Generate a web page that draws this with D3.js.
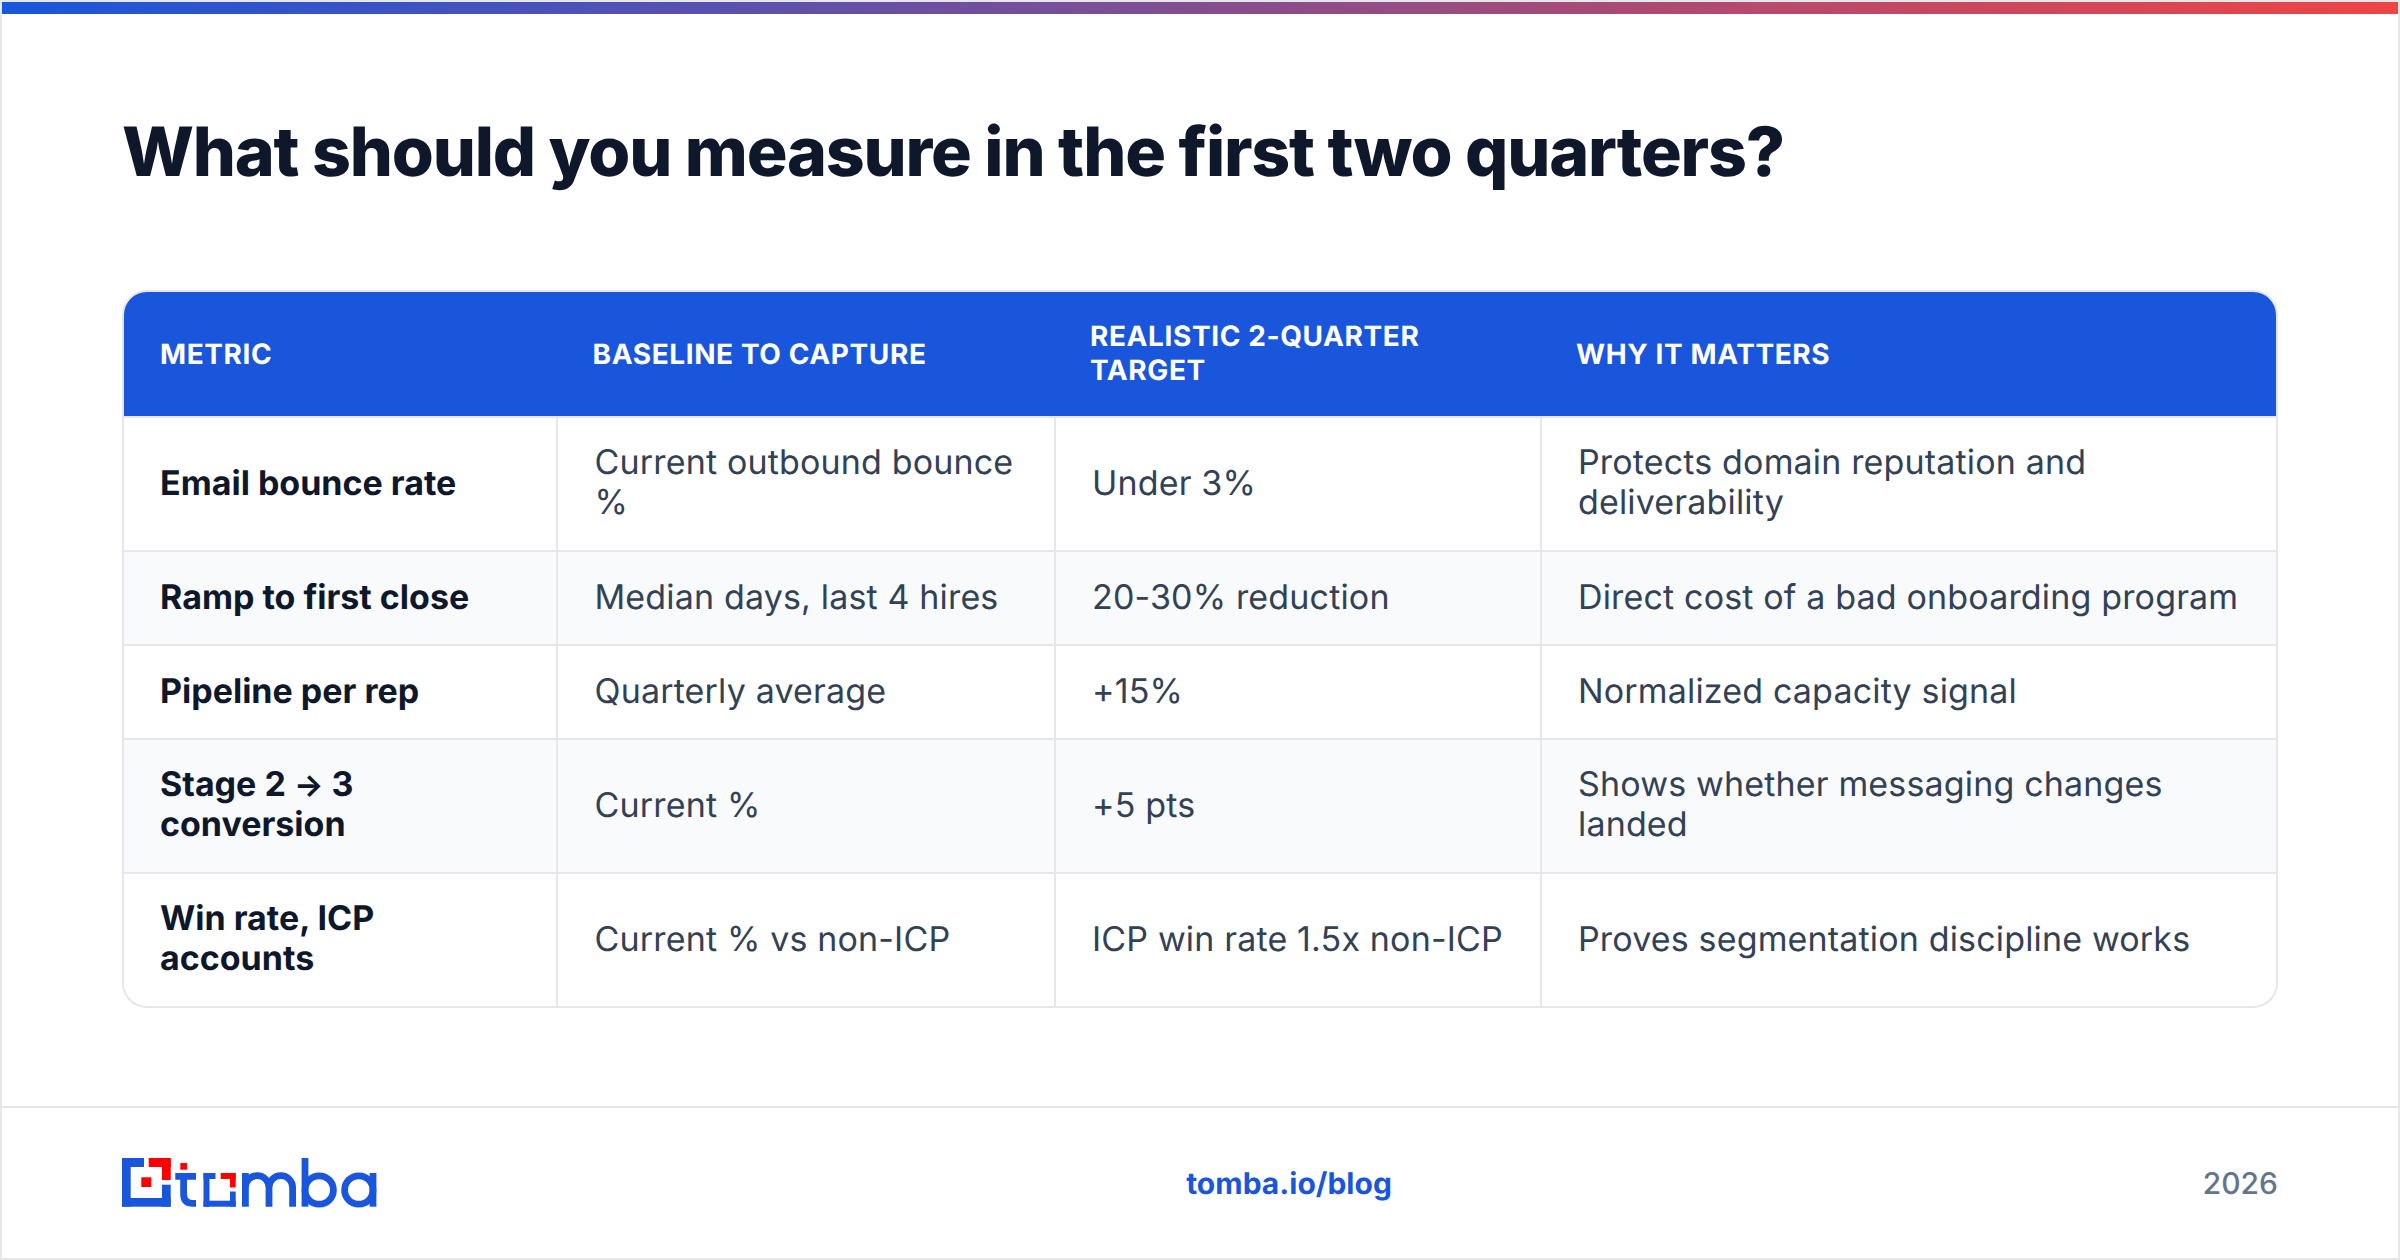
<!DOCTYPE html>
<html>
<head>
<meta charset="utf-8">
<script src="https://cdn.jsdelivr.net/npm/d3@7"></script>
<style>
html, body { margin: 0; padding: 0; background: #fff; }
svg { display: block; font-family: Inter, sans-serif; text-rendering: geometricPrecision; }
</style>
</head>
<body>
<svg id="chart" width="2400" height="1260"></svg>
<script>
var titleText = "What should you measure in the first two quarters?";
var columnHeaders = [["METRIC"], ["BASELINE TO CAPTURE"], ["REALISTIC 2-QUARTER", "TARGET"], ["WHY IT MATTERS"]];
var metrics = [["Email bounce rate"], ["Ramp to first close"], ["Pipeline per rep"], ["Stage 2 \u2192 3", "conversion"], ["Win rate, ICP", "accounts"]];
var baselines = [["Current outbound bounce", "%"], ["Median days, last 4 hires"], ["Quarterly average"], ["Current %"], ["Current % vs non-ICP"]];
var targets = [["Under 3%"], ["20-30% reduction"], ["+15%"], ["+5 pts"], ["ICP win rate 1.5x non-ICP"]];
var reasons = [["Protects domain reputation and", "deliverability"], ["Direct cost of a bad onboarding program"], ["Normalized capacity signal"], ["Shows whether messaging changes", "landed"], ["Proves segmentation discipline works"]];
var footerLink = "tomba.io/blog";
var footerYear = "2026";

var bodyColumns = [metrics, baselines, targets, reasons];

var svg = d3.select("#chart");
var W = 2400, H = 1260;
var border = "#e5e7eb";
var blue = "#1a56db";
var dark = "#0f172a";
var slate = "#334155";

// table frame
var left = 123, right = 2277, top_ = 291, bottom = 1007;
var colEdges = [left, 557, 1055, 1541, right];
var rowEdges = [417, 551, 645, 739, 873, bottom];
var headPad = [37, 35.5, 35, 35];
var cellPad = [37, 37.5, 37, 37];
var radius = 24;

var defs = svg.append("defs");
var grad = defs.append("linearGradient").attr("id", "topbar");
grad.append("stop").attr("offset", "0%").attr("stop-color", blue);
grad.append("stop").attr("offset", "100%").attr("stop-color", "#ef4444");
defs.append("clipPath").attr("id", "tableClip").append("rect")
    .attr("x", left).attr("y", top_)
    .attr("width", right - left).attr("height", bottom - top_)
    .attr("rx", radius);

// page
svg.append("rect").attr("width", W).attr("height", H).attr("fill", "#fff");
svg.append("rect").attr("x", 1).attr("y", 1).attr("width", W - 2).attr("height", H - 2)
    .attr("fill", "none").attr("stroke", border).attr("stroke-width", 2);
svg.append("rect").attr("x", 2).attr("y", 2).attr("width", W - 4).attr("height", 12)
    .attr("fill", "url(#topbar)");

svg.append("text")
    .attr("x", 122).attr("y", 176)
    .attr("font-size", 68).attr("font-weight", 800)
    .attr("letter-spacing", -1.2)
    .attr("fill", dark)
    .text(titleText);

// table body
var tbl = svg.append("g").attr("clip-path", "url(#tableClip)");
tbl.append("rect").attr("x", left).attr("y", top_)
    .attr("width", right - left).attr("height", rowEdges[0] - top_)
    .attr("fill", blue);

tbl.selectAll(".rowBg")
    .data(d3.range(metrics.length))
    .enter().append("rect")
    .attr("class", "rowBg")
    .attr("x", left)
    .attr("y", function(i){ return rowEdges[i]; })
    .attr("width", right - left)
    .attr("height", function(i){ return rowEdges[i + 1] - rowEdges[i]; })
    .attr("fill", function(i){ return i % 2 ? "#f8fafc" : "#fff"; });

// separators
tbl.selectAll(".rowLine")
    .data(rowEdges.slice(0, -1))
    .enter().append("line")
    .attr("class", "rowLine")
    .attr("x1", left).attr("x2", right)
    .attr("y1", function(d){ return d; }).attr("y2", function(d){ return d; })
    .attr("stroke", border).attr("stroke-width", 2);
tbl.selectAll(".colLine")
    .data(colEdges.slice(1, -1))
    .enter().append("line")
    .attr("class", "colLine")
    .attr("x1", function(d){ return d; }).attr("x2", function(d){ return d; })
    .attr("y1", rowEdges[0]).attr("y2", bottom)
    .attr("stroke", border).attr("stroke-width", 2);
svg.append("rect").attr("x", left).attr("y", top_)
    .attr("width", right - left).attr("height", bottom - top_)
    .attr("rx", radius).attr("fill", "none")
    .attr("stroke", border).attr("stroke-width", 2);

function multiline(sel, lines, lineHeight, capOffset){
  var x = sel.attr("x"), midY = +sel.attr("y");
  var nudge = lines.length > 1 ? -0.8 : 0;
  lines.forEach(function(line, i){
    var parts = line.split("\u2192");
    var y = midY + capOffset + nudge + (i - (lines.length - 1) / 2) * lineHeight;
    sel.append("tspan").attr("x", x).attr("y", y).text(parts[0]);
    if(parts.length > 1){
      // the arrow is a touch smaller than the text around it
      sel.append("tspan").attr("font-size", 31).text("\u2192");
      sel.append("tspan").text(parts[1]);
    }
  });
}

// header cells
var headMid = (top_ + rowEdges[0]) / 2;
columnHeaders.forEach(function(lines, c){
  svg.append("text")
    .attr("x", colEdges[c] + headPad[c]).attr("y", headMid)
    .attr("font-size", 28).attr("font-weight", 700)
    .attr("letter-spacing", 0.6)
    .attr("fill", "#fff")
    .call(multiline, lines, 34, 10);
});

// body cells
bodyColumns.forEach(function(col, c){
  col.forEach(function(lines, r){
    svg.append("text")
      .attr("x", colEdges[c] + cellPad[c])
      .attr("y", (rowEdges[r] + rowEdges[r + 1]) / 2)
      .attr("font-size", 34)
      .attr("font-weight", c === 0 ? 700 : 400)
      .attr("letter-spacing", c === 0 ? 0 : 0.16)
      .attr("fill", c === 0 ? dark : slate)
      .call(multiline, lines, 40.5, 11);
  });
});

// footer
svg.append("line").attr("x1", 2).attr("x2", W - 2).attr("y1", 1107).attr("y2", 1107)
    .attr("stroke", border).attr("stroke-width", 2);
svg.append("text").attr("x", 1289).attr("y", 1194)
    .attr("text-anchor", "middle")
    .attr("font-size", 30).attr("font-weight", 700)
    .attr("fill", blue).text(footerLink);
svg.append("text").attr("x", 2278).attr("y", 1194)
    .attr("text-anchor", "end")
    .attr("font-size", 30).attr("font-weight", 500)
    .attr("fill", "#64748b").text(footerYear);

// logo, drawn by hand since it is an image in the original
var logo = svg.append("g").attr("transform", "translate(122,1158)");
var logoRed = "#fe0000";
var logoBlocks = [
  [0, 0, 22, 9, blue], [0, 0, 8.7, 48.7, blue], [0, 40, 48.7, 8.7, blue], [40, 26.7, 8.7, 22, blue],
  [26.7, 0, 22, 9, logoRed], [40, 0, 8.7, 22, logoRed], [19.3, 19.3, 10, 9.7, logoRed],
  [58.3, 5, 6.7, 6.7, logoRed],
  [81.5, 15, 12, 6, blue], [81.5, 15, 6, 33.7, blue], [81.5, 42.7, 32.2, 6, blue], [108, 33.5, 5.7, 15.2, blue],
  [98.7, 15, 15, 6, logoRed], [108, 15, 5.7, 14.5, logoRed]
];
logo.selectAll(".logoBlock")
    .data(logoBlocks)
    .enter().append("rect")
    .attr("class", "logoBlock")
    .attr("x", function(d){ return d[0]; }).attr("y", function(d){ return d[1]; })
    .attr("width", function(d){ return d[2]; }).attr("height", function(d){ return d[3]; })
    .attr("fill", function(d){ return d[4]; });
var logoStrokes = [
  "M53.3,18.3 H74 M61.6,15 V36 Q61.6,45.4 71,45.4 H74",
  "M123.4,48.7 V15 M123.4,29.5 A11.8,11.8 0 0 1 147,29.5 V48.7 M147,29.5 A11.8,11.8 0 0 1 170.6,29.5 V48.7",
  "M183,0 V48.7",
  "M251,15 V48.7"
];
logo.selectAll(".logoStroke")
    .data(logoStrokes)
    .enter().append("path")
    .attr("class", "logoStroke")
    .attr("d", function(d){ return d; })
    .attr("fill", "none").attr("stroke", blue).attr("stroke-width", 6.8);
logo.selectAll(".logoBowl")
    .data([[197.2, 32], [236.8, 32]])
    .enter().append("circle")
    .attr("class", "logoBowl")
    .attr("cx", function(d){ return d[0]; }).attr("cy", function(d){ return d[1]; })
    .attr("r", 14.2)
    .attr("fill", "none").attr("stroke", blue).attr("stroke-width", 6.8);
</script>
</body>
</html>
